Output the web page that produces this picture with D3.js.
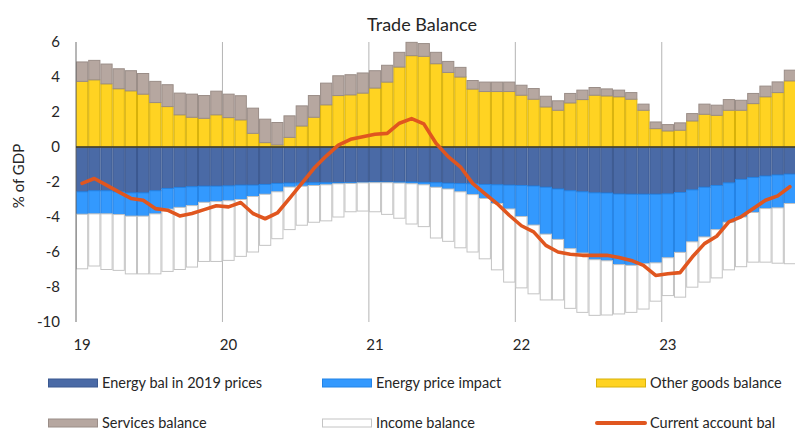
<html>
<head>
<meta charset="utf-8">
<script src="https://d3js.org/d3.v7.min.js"></script>
<style>
    body { margin: 0; background: white; }
    text { font-family: Lato, "Liberation Sans", sans-serif; fill: #262626; }
</style>
</head>
<body>
<script>
    var width = 795, height = 432;
    var plot = {left: 76, right: 796, top: 42, bottom: 322};

    // monthly, Jan 2019 .. Nov 2023
    let years = ["19", "20", "21", "22", "23"];
    let yTicks = [-10, -8, -6, -4, -2, 0, 2, 4, 6];

    let energy2019 = [-2.56,-2.50,-2.50,-2.56,-2.62,-2.62,-2.50,-2.37,-2.31,-2.27,-2.24,-2.24,
        -2.22,-2.18,-2.18,-2.14,-2.08,-2.06,-2.05,-2.04,-2.04,-2.04,-2.03,-2.02,
        -2.00,-2.00,-2.00,-2.00,-2.02,-2.04,-2.07,-2.09,-2.10,-2.14,-2.16,-2.18,
        -2.20,-2.23,-2.30,-2.40,-2.50,-2.56,-2.62,-2.63,-2.69,-2.70,-2.70,-2.70,
        -2.68,-2.60,-2.45,-2.30,-2.20,-2.05,-1.85,-1.74,-1.66,-1.60,-1.55];
    let energyPrice = [-1.28,-1.32,-1.32,-1.30,-1.33,-1.33,-1.32,-1.18,-1.14,-1.08,-0.92,-0.88,
        -0.85,-0.82,-0.65,-0.56,-0.48,-0.23,-0.19,-0.16,-0.12,-0.06,-0.05,-0.03,
        -0.04,-0.04,-0.06,-0.10,-0.14,-0.26,-0.33,-0.47,-0.62,-0.80,-1.07,-1.36,
        -1.77,-2.23,-2.68,-2.88,-3.31,-3.50,-3.82,-3.87,-4.03,-4.06,-3.97,-3.92,
        -3.65,-3.42,-2.97,-2.84,-2.52,-2.25,-2.15,-2.00,-1.86,-1.88,-1.68];
    let otherGoods = [3.75,3.84,3.61,3.33,3.21,3.02,2.54,2.31,1.84,1.70,1.64,1.84,
        1.68,1.55,0.78,0.25,0.12,0.55,1.20,1.70,2.41,2.94,2.98,3.08,
        3.37,3.71,4.57,5.22,5.18,4.76,4.26,4.00,3.31,3.17,3.17,3.17,
        2.96,2.73,2.29,2.10,2.52,2.71,2.96,2.92,2.87,2.73,2.10,1.05,
        0.92,0.96,1.49,1.87,1.81,2.10,2.10,2.48,2.87,3.11,3.78];
    let services = [1.11,1.11,1.13,1.14,1.15,1.18,1.21,1.25,1.24,1.32,1.30,1.35,
        1.34,1.38,1.44,1.34,1.28,1.23,1.15,1.24,1.24,1.13,1.15,1.15,
        0.99,0.96,0.84,0.76,0.73,0.65,0.63,0.55,0.49,0.54,0.54,0.54,
        0.57,0.61,0.61,0.54,0.54,0.54,0.44,0.40,0.38,0.38,0.35,0.38,
        0.36,0.42,0.42,0.58,0.58,0.61,0.57,0.58,0.61,0.61,0.61];
    let income = [-3.12,-2.98,-3.18,-3.19,-3.30,-3.30,-3.43,-3.56,-3.55,-3.51,-3.38,-3.42,
        -3.41,-3.25,-3.17,-2.92,-2.68,-2.43,-2.23,-2.10,-2.06,-1.90,-1.62,-1.61,
        -1.66,-1.81,-2.01,-2.30,-2.39,-2.90,-2.99,-3.20,-3.28,-3.45,-3.79,-4.18,
        -4.08,-3.93,-3.76,-3.46,-3.41,-3.39,-3.18,-3.10,-2.82,-2.69,-2.59,-2.19,
        -2.16,-2.56,-2.59,-2.58,-2.76,-2.72,-2.84,-2.84,-3.06,-3.16,-3.44];
    let currentAccount = [-2.08,-1.80,-2.18,-2.56,-2.94,-3.04,-3.52,-3.61,-3.94,-3.80,-3.58,-3.36,
        -3.42,-3.17,-3.80,-4.10,-3.77,-2.94,-2.08,-1.22,-0.52,0.11,0.44,0.59,
        0.73,0.78,1.36,1.62,1.32,0.21,-0.55,-1.13,-2.08,-2.66,-3.23,-3.90,
        -4.50,-4.85,-5.62,-6.00,-6.13,-6.19,-6.19,-6.19,-6.32,-6.48,-6.76,-7.34,
        -7.24,-7.18,-6.29,-5.52,-5.10,-4.28,-3.99,-3.51,-3.04,-2.79,-2.27];

    let keys = ["energy2019", "energyPrice", "otherGoods", "services", "income"];
    let names = {energy2019: "Energy bal in 2019 prices", energyPrice: "Energy price impact",
        otherGoods: "Other goods balance", services: "Services balance", income: "Income balance"};
    let fills = {energy2019: "#4a6aa6", energyPrice: "#3399fe", otherGoods: "#ffd322",
        services: "#b6a7a0", income: "#ffffff"};
    let strokes = {energy2019: "#3a5890", energyPrice: "#2383e6", otherGoods: "#d8b10a",
        services: "#9a8d87", income: "#c4c4c4"};
    let lineColor = "#e0561f";

    let rows = energy2019.map(function(v, i) {
        return {i: i, energy2019: v, energyPrice: energyPrice[i], otherGoods: otherGoods[i],
            services: services[i], income: income[i]};
    });

    let svg = d3.select("body").append("svg")
        .attr("width", width)
        .attr("height", height);

    let x = d3.scaleBand()
        .domain(rows.map(d => d.i))
        .range([plot.left, plot.right])
        .padding(0);

    let y = d3.scaleLinear()
        .domain([-10, 6])
        .range([plot.bottom, plot.top]);

    // year gridlines (behind bars)
    years.forEach(function(yr, k) {
        if (k == 0) return;
        svg.append("line")
            .attr("x1", x(k * 12)).attr("x2", x(k * 12))
            .attr("y1", plot.top).attr("y2", plot.bottom)
            .attr("stroke", "#b4b4b4")
            .attr("stroke-width", 1);
    });

    let series = d3.stack()
        .keys(keys)
        .offset(d3.stackOffsetDiverging)(rows);

    svg.append("g").selectAll("g")
        .data(series)
        .enter().append("g")
        .attr("fill", d => fills[d.key])
        .attr("stroke", d => strokes[d.key])
        .selectAll("rect")
        .data(d => d)
        .enter().append("rect")
        .attr("x", d => x(d.data.i) + 0.5)
        .attr("width", x.bandwidth() - 1)
        .attr("y", d => y(Math.max(d[0], d[1])))
        .attr("height", d => Math.abs(y(d[0]) - y(d[1])));

    // axis line and zero line
    svg.append("line")
        .attr("x1", plot.left).attr("x2", plot.left)
        .attr("y1", plot.top).attr("y2", plot.bottom)
        .attr("stroke", "#6e6e6e");
    svg.append("line")
        .attr("x1", plot.left).attr("x2", plot.right)
        .attr("y1", y(0)).attr("y2", y(0))
        .attr("stroke", "#333")
        .attr("stroke-width", 1.3);

    // current account line
    let line = d3.line()
        .x((d, i) => x(i) + x.bandwidth() / 2)
        .y(d => y(d));
    svg.append("path")
        .datum(currentAccount)
        .attr("d", line)
        .attr("fill", "none")
        .attr("stroke", lineColor)
        .attr("stroke-width", 3.6)
        .attr("stroke-linejoin", "round")
        .attr("stroke-linecap", "round");

    // y tick labels
    svg.selectAll(".ytick")
        .data(yTicks)
        .enter().append("text")
        .attr("x", 60)
        .attr("y", d => y(d))
        .attr("dy", "0.35em")
        .attr("text-anchor", "end")
        .style("font-size", "15px")
        .text(d => d);

    // x labels, centred on the January bar
    svg.selectAll(".xtick")
        .data(years)
        .enter().append("text")
        .attr("x", (d, k) => x(k * 12) + x.bandwidth() / 2)
        .attr("y", 345)
        .attr("dy", "0.35em")
        .attr("text-anchor", "middle")
        .style("font-size", "15px")
        .text(d => d);

    svg.append("text")
        .attr("transform", "translate(19,176) rotate(-90)")
        .attr("text-anchor", "middle")
        .attr("dy", "0.35em")
        .style("font-size", "15px")
        .text("% of GDP");

    svg.append("text")
        .attr("x", 422)
        .attr("y", 25)
        .attr("dy", "0.35em")
        .attr("text-anchor", "middle")
        .style("font-size", "18px")
        .text("Trade Balance");

    // legend
    let legendItems = [
        {key: "energy2019", col: 0, row: 0},
        {key: "energyPrice", col: 1, row: 0},
        {key: "otherGoods", col: 2, row: 0},
        {key: "services", col: 0, row: 1},
        {key: "income", col: 1, row: 1},
        {key: "line", col: 2, row: 1}
    ];
    let colX = [48, 322, 596];
    let rowY = [383, 423];

    legendItems.forEach(function(it) {
        let lx = colX[it.col], ly = rowY[it.row];
        if (it.key == "line") {
            svg.append("line")
                .attr("x1", lx + 1).attr("x2", lx + 49)
                .attr("y1", ly).attr("y2", ly)
                .attr("stroke", lineColor)
                .attr("stroke-width", 4)
                .attr("stroke-linecap", "round");
        } else {
            svg.append("rect")
                .attr("x", lx + 0.5).attr("y", ly - 4)
                .attr("width", 49).attr("height", 8)
                .attr("fill", fills[it.key])
                .attr("stroke", strokes[it.key]);
        }
        svg.append("text")
            .attr("x", lx + 54)
            .attr("y", ly)
            .attr("dy", "0.35em")
            .style("font-size", "14.5px")
            .text(it.key == "line" ? "Current account bal" : names[it.key]);
    });
</script>
</body>
</html>
